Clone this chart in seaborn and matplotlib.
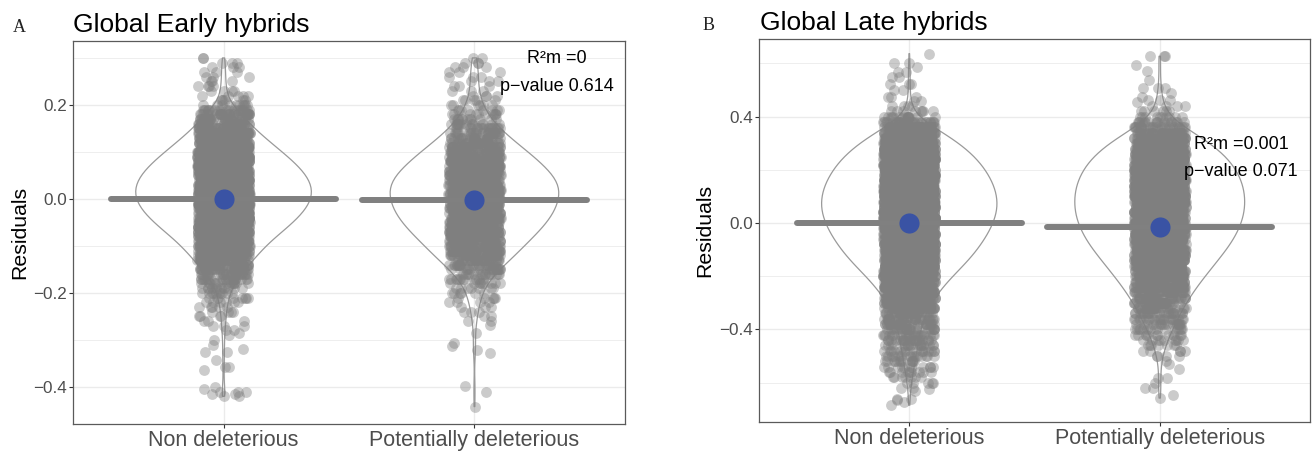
import numpy as np
import pandas as pd
import matplotlib
matplotlib.use("Agg")
import matplotlib.pyplot as plt
from matplotlib.ticker import FixedLocator
import seaborn as sns

# ---------------- data ----------------
categories = ["Non deleterious", "Potentially deleterious"]
panel_titles = ["Global Early hybrids", "Global Late hybrids"]
panel_letters = ["A", "B"]
r2m_labels = ["R²m =0", "R²m =0.001"]
pvalue_labels = ["p−value 0.614", "p−value 0.071"]

# Early hybrids: residual histogram, bin centres -0.28 .. 0.30 (step 0.01)
early_bins = np.round(np.arange(-0.28, 0.3001, 0.01), 2)
early_non_counts = [2, 3, 3, 4, 4, 5, 6, 8, 10, 12, 15, 20, 25, 31, 38, 44, 50, 56,
                    61, 69, 78, 86, 95, 103, 110, 117, 123, 127,
                    130, 132, 132, 130, 127, 123, 117, 110, 103, 95, 86, 78, 69, 61,
                    53, 45, 38, 32, 27, 22, 10, 6, 5, 4, 4, 3, 3, 3, 3, 3, 2]
early_non_tails = [-0.285, -0.29, -0.30, -0.311, -0.32, -0.325, -0.325, -0.343,
                   -0.357, -0.357, -0.364, -0.40, -0.405, -0.41, -0.41, -0.41,
                   -0.415, -0.415, -0.42, -0.42]
early_pot_counts = [0, 0, 2, 2, 3, 3, 4, 5, 6, 7, 9, 12, 15, 19, 23, 27, 31, 35,
                    37, 41, 45, 49, 52, 55, 58, 60, 62, 64,
                    63, 65, 66, 65, 63, 60, 57, 53, 49, 45, 41, 36, 31, 27,
                    23, 19, 15, 12, 10, 8, 6, 5, 4, 3, 3, 3, 3, 3, 3, 3, 2]
early_pot_tails = [-0.268, -0.286, -0.307, -0.314, -0.321, -0.328, -0.398, -0.41, -0.442]
early_means = [0.0, -0.002]

# Late hybrids: residual histogram, bin centres -0.60 .. 0.44 (step 0.02)
late_bins = np.round(np.arange(-0.60, 0.4401, 0.02), 2)
late_non_counts = [5, 7, 9, 11, 13, 15, 17, 19, 21, 23, 26, 29, 32, 37, 43, 50, 58, 66,
                   76, 86, 98, 110, 122, 134, 144, 154, 162, 170, 178, 184,
                   190, 194, 198, 200, 200, 198, 196, 192, 186, 180, 172, 164, 154,
                   142, 128, 114, 96, 76, 56, 32, 16, 8, 4]
late_non_tails = [0.46, 0.46, 0.474, 0.474, 0.474, 0.50, 0.50, 0.524, 0.524, 0.524,
                  0.549, 0.549, 0.568, 0.568, 0.586, 0.60, 0.60, 0.637,
                  -0.62, -0.62, -0.625, -0.63, -0.66, -0.66, -0.665, -0.673, -0.685]
late_pot_counts = [0, 0, 0, 0, 0, 4, 5, 7, 9, 12, 15, 18, 21, 24, 27, 31, 35, 39,
                   43, 48, 53, 58, 63, 68, 73, 78, 83, 87, 90, 93,
                   96, 98, 99, 100, 100, 100, 99, 98, 96, 93, 90, 86, 81,
                   75, 68, 60, 50, 40, 28, 17, 10, 6, 4]
late_pot_tails = [0.455, 0.464, 0.464, 0.464, 0.475, 0.49, 0.508, 0.508, 0.508,
                  0.539, 0.57, 0.595, 0.627, 0.627, 0.627,
                  -0.52, -0.53, -0.55, -0.583, -0.583, -0.60, -0.62, -0.62, -0.645, -0.658]
late_means = [0.0, -0.013]

# ---------------- styling ----------------
POINT = "#7f7f7f"
VIOLIN = "#9a9a9a"
MEANLINE = "#808080"
BLUE = "#3a53a4"
GRID = "#ebebeb"
BORDER = "#5a5a5a"
TICKLAB = "#4d4d4d"

sns.set_theme(style="white")
plt.rcParams["font.family"] = ["Liberation Sans", "DejaVu Sans"]
np.random.seed(3)


def expand(bins, counts, tails):
    return np.concatenate([np.repeat(bins, counts), np.asarray(tails, float)])


def make_df(values_by_group):
    frames = [pd.DataFrame({"group": g, "value": v}) for g, v in zip(categories, values_by_group)]
    return pd.concat(frames, ignore_index=True)


df_early = make_df([expand(early_bins, early_non_counts, early_non_tails),
                    expand(early_bins, early_pot_counts, early_pot_tails)])
df_late = make_df([expand(late_bins, late_non_counts, late_non_tails),
                   expand(late_bins, late_pot_counts, late_pot_tails)])

W, H = 1312, 454
fig = plt.figure(figsize=(W / 100, H / 100), dpi=100)
ax_a = fig.add_axes([73 / W, 1 - 424 / H, 552 / W, 383 / H])
ax_b = fig.add_axes([759 / W, 1 - 422 / H, 551 / W, 383 / H])

panels = [
    dict(ax=ax_a, df=df_early, means=early_means, ylim=(-0.479, 0.336),
         major=[-0.4, -0.2, 0.0, 0.2], minor=[-0.3, -0.1, 0.1, 0.3],
         title_x=73, base_y=32, letter_x=13, ylab_x=20, ann_x=1.33, ann_y=(0.298, 0.240)),
    dict(ax=ax_b, df=df_late, means=late_means, ylim=(-0.748, 0.692),
         major=[-0.4, 0.0, 0.4], minor=[-0.6, -0.2, 0.2, 0.6],
         title_x=760, base_y=30, letter_x=703, ylab_x=705, ann_x=1.325, ann_y=(0.297, 0.192)),
]

for i, p in enumerate(panels):
    ax = p["ax"]
    df = p["df"]
    sns.violinplot(data=df, x="group", y="value", order=categories, ax=ax,
                   inner=None, fill=False, color=VIOLIN, linecolor=VIOLIN,
                   linewidth=0.9, cut=0, density_norm="area", width=0.70)
    sns.stripplot(data=df, x="group", y="value", order=categories, ax=ax,
                  jitter=0.104, size=7.8, color=POINT, alpha=0.4, linewidth=0)
    xpos = np.arange(len(categories))
    lc = ax.hlines(p["means"], xpos - 0.45, xpos + 0.45, colors=MEANLINE,
                   linewidth=4.3, zorder=5)
    lc.set_capstyle("round")
    ax.scatter(xpos, p["means"], s=210, color=BLUE, zorder=6, linewidth=0)

    ax.set_xlim(-0.6, 1.6)
    ax.set_ylim(*p["ylim"])
    ax.yaxis.set_major_locator(FixedLocator(p["major"]))
    ax.yaxis.set_minor_locator(FixedLocator(p["minor"]))
    ax.set_axisbelow(True)
    ax.grid(which="major", axis="both", color=GRID, linewidth=1.0)
    ax.grid(which="minor", axis="y", color=GRID, linewidth=0.6)
    ax.tick_params(axis="both", which="major", length=3, width=0.8, color="#333333",
                   labelcolor=TICKLAB, pad=1.5)
    ax.tick_params(axis="y", which="major", labelsize=12.3, left=True)
    ax.tick_params(axis="x", which="major", labelsize=15.5, bottom=True)
    ax.tick_params(axis="y", which="minor", length=0)
    ax.set_xlabel("")
    ax.set_ylabel("")
    for sp in ax.spines.values():
        sp.set_visible(True)
        sp.set_color(BORDER)
        sp.set_linewidth(0.9)

    ax.text(p["ann_x"], p["ann_y"][0], r2m_labels[i], ha="center", va="center",
            fontsize=13, color="black", zorder=7)
    ax.text(p["ann_x"], p["ann_y"][1], pvalue_labels[i], ha="center", va="center",
            fontsize=13, color="black", zorder=7)

    fig.text(p["title_x"] / W, 1 - p["base_y"] / H, panel_titles[i], fontsize=19,
             ha="left", va="baseline", color="black")
    fig.text(p["letter_x"] / W, 1 - p["base_y"] / H, panel_letters[i], fontsize=13,
             ha="left", va="baseline", color="#222222", family=["Liberation Serif", "DejaVu Serif"])
    bb = ax.get_position()
    fig.text(p["ylab_x"] / W, bb.y0 + bb.height / 2, "Residuals", rotation=90,
             fontsize=15.3, ha="center", va="center", color="black")

fig.savefig("out.png", dpi=100)
